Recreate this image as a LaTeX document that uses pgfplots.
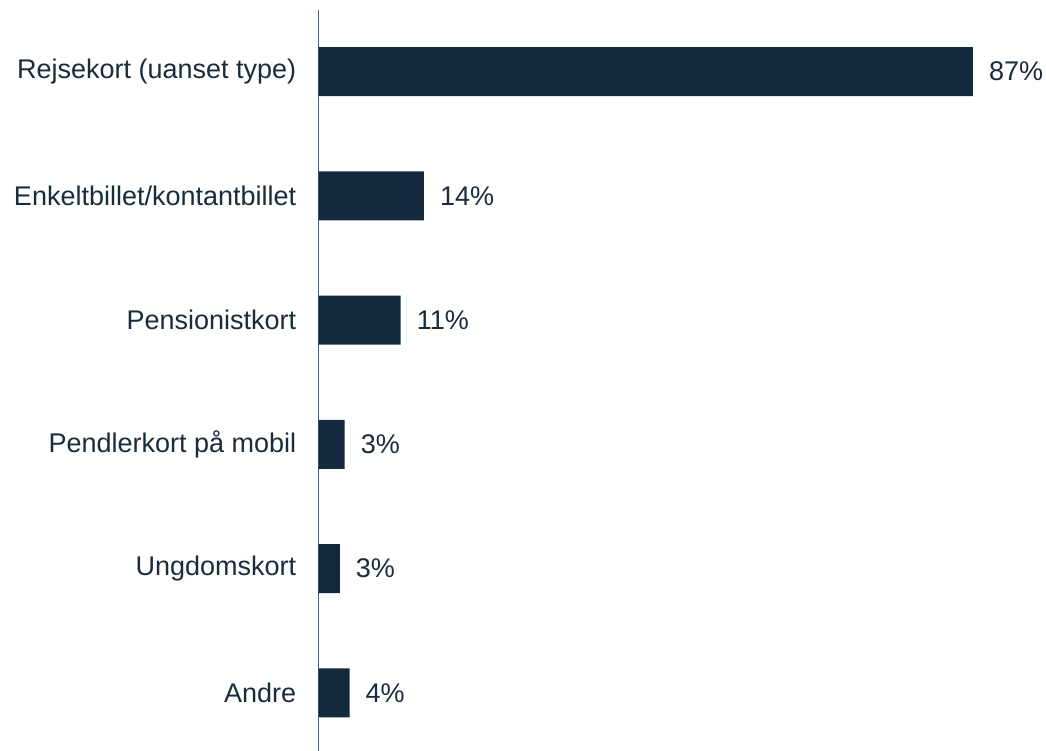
\documentclass[border=0pt]{standalone}
\usepackage{pgfplots}
\pgfplotsset{compat=1.18}
\usepackage{fontspec}
\setmainfont{Liberation Sans}
\definecolor{barc}{RGB}{19,41,61}
\definecolor{txtc}{RGB}{26,43,60}
\definecolor{axc}{RGB}{80,95,110}
\begin{document}
\begin{tikzpicture}[x=1pt,y=1pt]
\useasboundingbox (0,0) rectangle (1046,751);
\begin{axis}[
  at={(318.7pt,0pt)}, anchor=south west,
  scale only axis,
  width=676.8pt, height=741pt,
  xbar, bar width=49pt,
  xmin=0, xmax=90,
  ymin=-0.467, ymax=5.495,
  axis x line=none,
  axis y line*=left,
  y axis line style={axc, line width=1pt},
  ytick={0,1,2,3,4,5},
  yticklabels={Andre,Ungdomskort,Pendlerkort på mobil,Pensionistkort,Enkeltbillet/kontantbillet,Rejsekort (uanset type)},
  major tick length=0pt,
  yticklabel style={font=\fontsize{27}{32}\selectfont, text=txtc, anchor=east, xshift=-19pt},
  nodes near coords,
  point meta=explicit symbolic,
  every node near coord/.append style={font=\fontsize{27}{32}\selectfont, text=txtc, anchor=west, inner sep=0pt, xshift=16pt},
  clip=false,
]
\addplot[fill=barc, draw=none] table[meta=lab, x=v, y=y] {
y v lab
0 4.1 4\%
1 2.8 3\%
2 3.45 3\%
3 10.9 11\%
4 14.0 14\%
5 87.0 87\%
};
\end{axis}
\end{tikzpicture}
\end{document}
